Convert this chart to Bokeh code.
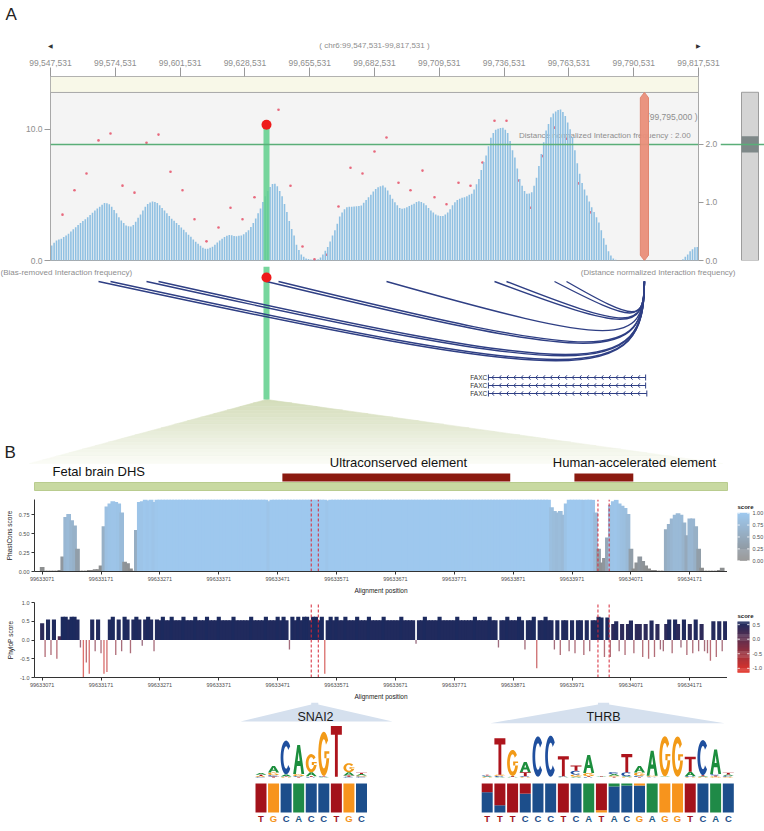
import math
from bokeh.plotting import figure
from bokeh.layouts import column, row
from bokeh.models import (Range1d, LinearAxis, FixedTicker, NumeralTickFormatter,
                          LinearColorMapper, ColumnDataSource)
from bokeh.core.properties import value
from bokeh.embed import file_html
from bokeh.resources import INLINE

# ------------------------------------------------------------------ data
CHROM = "chr6"
G_START = 99547531
G_END = 99817531
G_TICK_STEP = 27000
LEFT_TICKS = [0, 10]
RIGHT_TICKS = [0, 1, 2]
BIN_SIZE = 1000
# Bias-removed interaction frequency, one value per 1 kb bin
BIAS_REMOVED = [
    1.14, 1.35, 1.52, 1.6, 1.65, 1.78, 1.9, 2.03, 2.2, 2.37,
    2.54, 2.7, 2.85, 3.0, 3.15, 3.3, 3.47, 3.64, 3.81, 3.95,
    4.1, 4.24, 4.37, 4.35, 4.28, 4.1, 3.85, 3.6, 3.3, 3.05,
    2.85, 2.67, 2.6, 2.59, 2.7, 2.95, 3.25, 3.5, 3.8, 4.1,
    4.3, 4.42, 4.49, 4.46, 4.38, 4.2, 4.0, 3.81, 3.6, 3.38,
    3.17, 3.02, 2.86, 2.7, 2.52, 2.35, 2.15, 1.97, 1.8, 1.6,
    1.42, 1.27, 1.12, 0.97, 0.89, 0.9, 0.97, 1.05, 1.2, 1.38,
    1.52, 1.66, 1.78, 1.88, 1.95, 1.93, 1.86, 1.85, 1.88, 1.9,
    2.0, 2.15, 2.3, 2.55, 2.85, 3.2, 3.6, 3.95, 4.45, 4.9,
    5.3, 5.6, 5.82, 5.84, 5.65, 5.3, 4.9, 4.3, 3.7, 3.0,
    2.4, 1.9, 1.2, 0.8, 0.45, 0.28, 0.16, 0.12, 0.08, 0.05,
    0.05, 0.1, 0.22, 0.45, 0.75, 1.02, 1.45, 1.9, 2.3, 2.8,
    3.35, 3.65, 3.9, 4.05, 4.1, 4.1, 4.11, 4.13, 4.15, 4.19,
    4.4, 4.6, 4.82, 5.0, 5.25, 5.45, 5.58, 5.65, 5.71, 5.55,
    5.33, 5.0, 4.7, 4.44, 4.2, 4.0, 3.94, 3.97, 4.05, 4.15,
    4.25, 4.32, 4.45, 4.52, 4.45, 4.35, 4.2, 4.0, 3.81, 3.65,
    3.5, 3.43, 3.38, 3.38, 3.5, 3.65, 3.9, 4.2, 4.44, 4.6,
    4.7, 4.78, 4.82, 4.9, 5.0, 5.08, 5.4, 5.8, 6.2, 6.9,
    7.5, 8.0, 8.7, 9.35, 9.7, 9.95, 10.03, 10.08, 10.1, 9.95,
    9.7, 9.1, 8.4, 7.85, 7.0, 6.2, 5.7, 5.3, 5.08, 5.1,
    5.2, 5.7, 6.3, 7.2, 8.1, 9.0, 9.9, 10.4, 10.9, 11.2,
    11.35, 11.45, 11.5, 11.3, 11.0, 10.5, 10.0, 9.4, 8.4, 7.4,
    6.6, 5.9, 5.4, 4.95, 4.5, 4.06, 3.7, 3.3, 2.9, 2.3,
    1.7, 1.2, 0.7, 0.38, 0.15, 0.05, 0.0, 0.0, 0.0, 0.0,
    0.0, 0.0, 0.0, 0.0, 0.0, 0.0, 0.0, 0.0, 0.0, 0.0,
    0.0, 0.0, 0.0, 0.0, 0.0, 0.0, 0.0, 0.0, 0.0, 0.0,
    0.0, 0.0, 0.0, 0.1, 0.28, 0.45, 0.7, 0.85, 1.0, 1.02,
]
DOT_STEP = 5000
# Distance normalized interaction frequency, bins k = 1..45 (5 kb steps)
DIST_NORM = [
    0.79, 1.21, 1.5, 2.07, 2.19, 1.29, 1.17, 2.03, 2.17, 1.53,
    1.21, 0.71, 0.33, 0.57, 0.91, 0.71, 1.09, 2.34, 2.6, 1.29,
    0.24, 0.02, 0.1, 0.93, 1.6, 1.5, 1.88, 2.12, 1.34, 1.21,
    1.55, 1.09, 0.97, 1.34, 1.29, 1.69, 2.41, 2.41, 1.38, 0.91,
    1.8, 2.29, 2.1, 1.33, 0.83,
]
SELECTED = 18
ANCHOR = 99795000
THRESHOLD = 2.0
GENE_NAME = "FAXC"
GENE_STARTS = [99730000, 99730000, 99730000]
GENE_ENDS = [99795500, 99795500, 99796000]

B_START = 99633058
B_END = 99634235
B_TICK0 = 99633071
B_TICK_STEP = 100
B_NTICKS = 12
DHS = (99633058, 99634235)
UCE = (99633479, 99633866)
HAR = (99633975, 99634075)
LABEL_DHS = "Fetal brain DHS"
LABEL_UCE = "Ultraconserved element"
LABEL_HAR = "Human-accelerated element"
SCORE_POS0 = 99633071
SCORE_STEP = 5
PHASTCONS = [
    0.06, 0.01, 0.01, 0.01, 0.01, 0.01, 0.02, 0.2, 0.72, 0.76,
    0.68, 0.61, 0.3, 0.01, 0.01, 0.01, 0.02, 0.02, 0.03, 0.03,
    0.08, 0.6, 0.86, 0.9, 0.93, 0.92, 0.9, 0.78, 0.13, 0.11,
    0.04, 0.01, 0.55, 0.92, 0.93, 0.96, 0.94, 0.96, 0.92, 0.96,
    1.0, 1.0, 1.0, 1.0, 1.0, 1.0, 1.0, 1.0, 1.0, 1.0,
    1.0, 1.0, 1.0, 1.0, 1.0, 1.0, 1.0, 1.0, 1.0, 1.0,
    1.0, 1.0, 1.0, 1.0, 1.0, 1.0, 1.0, 1.0, 1.0, 1.0,
    1.0, 1.0, 1.0, 1.0, 1.0, 1.0, 1.0, 0.93, 1.0, 1.0,
    1.0, 1.0, 1.0, 1.0, 1.0, 1.0, 1.0, 1.0, 1.0, 1.0,
    1.0, 1.0, 1.0, 1.0, 1.0, 1.0, 1.0, 0.94, 1.0, 1.0,
    1.0, 1.0, 1.0, 1.0, 1.0, 1.0, 1.0, 1.0, 1.0, 1.0,
    1.0, 1.0, 1.0, 1.0, 1.0, 1.0, 1.0, 1.0, 1.0, 1.0,
    1.0, 1.0, 1.0, 1.0, 1.0, 1.0, 1.0, 1.0, 1.0, 1.0,
    1.0, 1.0, 1.0, 1.0, 1.0, 1.0, 1.0, 1.0, 1.0, 1.0,
    1.0, 1.0, 1.0, 1.0, 1.0, 1.0, 1.0, 1.0, 1.0, 1.0,
    1.0, 1.0, 1.0, 1.0, 1.0, 1.0, 1.0, 1.0, 1.0, 1.0,
    1.0, 1.0, 1.0, 1.0, 1.0, 1.0, 1.0, 1.0, 1.0, 1.0,
    1.0, 1.0, 1.0, 0.85, 0.8, 0.78, 0.8, 0.75, 0.9, 1.0,
    1.0, 1.0, 1.0, 1.0, 0.95, 1.0, 1.0, 0.95, 0.78, 0.3,
    0.12, 0.18, 0.45, 0.88, 0.93, 0.95, 0.9, 0.87, 0.84, 0.76,
    0.3, 0.04, 0.12, 0.2, 0.14, 0.08, 0.04, 0.02, 0.02, 0.01,
    0.01, 0.01, 0.56, 0.63, 0.7, 0.75, 0.77, 0.75, 0.65, 0.48,
    0.7, 0.7, 0.6, 0.3, 0.05, 0.01, 0.01, 0.01, 0.01, 0.01,
    0.02, 0.05, 0.0,
]
PHYLOP = [
    0.45, -0.45, 0.55, -0.4, 0.55, -0.5, 0.1, 0.62, 0.62, 0.55,
    0.62, 0.62, 0.55, -0.2, -1.0, -0.6, -0.9, 0.55, -0.3, 0.55,
    -0.35, -0.9, -0.85, 0.55, 0.62, -0.4, 0.55, -0.3, 0.62, 0.55,
    -0.35, 0.55, 0.62, 0.55, -0.15, 0.55, 0.62, 0.55, -0.3, 0.55,
    0.53, 0.62, 0.53, 0.53, 0.62, 0.53, 0.53, 0.53, 0.62, 0.53,
    0.53, 0.53, 0.62, 0.53, 0.53, 0.53, 0.62, 0.53, 0.53, 0.53,
    0.62, 0.53, 0.53, 0.53, 0.53, 0.62, 0.53, 0.53, 0.53, 0.53,
    0.53, 0.62, 0.53, 0.53, 0.53, 0.53, 0.62, 0.53, 0.53, 0.53,
    0.62, 0.53, 0.62, 0.53, -0.25, 0.62, 0.53, 0.62, 0.53, 0.62,
    0.62, 0.53, 0.62, 0.62, 0.53, 0.62, -0.9, 0.53, 0.62, 0.53,
    0.62, 0.53, 0.53, 0.62, 0.53, 0.53, 0.53, 0.62, 0.53, 0.53,
    0.53, 0.62, 0.53, 0.53, 0.53, 0.53, 0.62, 0.53, 0.53, 0.53,
    0.53, 0.53, 0.62, 0.53, 0.53, 0.53, 0.53, -0.1, 0.53, 0.53,
    0.62, 0.53, 0.53, 0.53, 0.53, 0.62, 0.53, 0.53, 0.53, 0.53,
    0.53, 0.62, 0.53, 0.53, 0.53, 0.53, 0.53, 0.62, 0.53, 0.53,
    0.53, 0.53, 0.62, 0.53, 0.53, -0.2, 0.53, 0.53, 0.62, 0.53,
    0.53, 0.53, 0.62, 0.53, -0.25, 0.53, 0.53, 0.62, -0.75, 0.53,
    0.53, 0.62, 0.53, 0.53, -0.25, 0.53, -0.4, 0.53, 0.53, -0.3,
    0.53, -0.35, 0.53, 0.53, -0.4, 0.53, -0.3, 0.53, 0.53, 0.62,
    0.6, -0.45, 0.6, -0.45, 0.43, 0.5, -0.3, 0.43, -0.4, 0.43,
    0.52, -0.35, 0.43, 0.43, -0.45, 0.43, -0.5, 0.52, -0.45, 0.43,
    -0.25, -0.3, 0.43, 0.55, -0.35, 0.55, 0.43, -0.2, 0.55, -0.4,
    0.43, -0.35, 0.55, -0.3, 0.43, -0.3, -0.35, -0.55, 0.5, -0.45,
    0.5, -0.3, 0.5,
]
PC_TICKS = [0.0, 0.25, 0.5, 0.75]
PC_CB_TICKS = [0.0, 0.25, 0.5, 0.75, 1.0]
PP_TICKS = [-1.0, -0.5, 0.0, 0.5, 1.0]
PP_CB_TICKS = [-1.0, -0.5, 0.0, 0.5]

MOTIF_NAMES = ["SNAI2", "THRB"]
MOTIF_SITES = [(99633528, 99633540), (99634015, 99634034)]
# sequence logo heights (bits)
SNAI2_A = [0.06, 0.25, 0.08, 1.12, 0.15, 0.02, 0.01, 0.12, 0.05]
SNAI2_C = [0.03, 0.05, 1.3, 0.03, 0.02, 0.02, 0.01, 0.03, 0.04]
SNAI2_G = [0.03, 0.1, 0.02, 0.08, 0.7, 1.7, 0.01, 0.35, 0.04]
SNAI2_T = [0.05, 0.04, 0.02, 0.02, 0.03, 0.02, 1.95, 0.05, 0.05]
THRB_A = [0.03, 0.02, 0.02, 0.4, 0.01, 0.01, 0.02, 0.03, 0.7, 0.02,
          0.06, 0.03, 0.25, 0.96, 0.02, 0.01, 0.17, 0.03, 0.95, 0.05]
THRB_C = [0.03, 0.04, 0.01, 0.03, 1.55, 1.58, 0.02, 0.15, 0.02, 0.01,
          0.08, 0.15, 0.05, 0.02, 0.01, 0.01, 0.03, 1.35, 0.05, 0.04]
THRB_G = [0.02, 0.05, 1.0, 0.02, 0.01, 0.01, 0.01, 0.08, 0.12, 0.01,
          0.04, 0.02, 0.12, 0.04, 1.55, 1.55, 0.02, 0.02, 0.04, 0.03]
THRB_T = [0.03, 1.4, 0.03, 0.15, 0.01, 0.01, 0.77, 0.2, 0.03, 0.02,
          0.03, 0.7, 0.02, 0.01, 0.01, 0.01, 0.58, 0.04, 0.04, 0.06]
# base composition bars (fractions)
SNAI2_FA = [0, 0, 0, 1, 0, 0, 0, 0, 0]
SNAI2_FC = [0, 0, 1, 0, 1, 1, 0, 0, 1]
SNAI2_FG = [0, 1, 0, 0, 0, 0, 0, 1, 0]
SNAI2_FT = [1, 0, 0, 0, 0, 0, 1, 0, 0]
THRB_FA = [0, 0, 0, 0, 0, 0, 0, 0, 1, 0, 0.1, 0.07, 0, 1, 0, 0, 0, 0, 1, 0]
THRB_FC = [0.7, 0.25, 0, 0.65, 1, 1, 0, 1, 0, 0, 0.9, 0.93, 0.93, 0, 0, 0, 0, 1, 0, 1]
THRB_FG = [0, 0, 0, 0, 0, 0, 0, 0, 0, 0.08, 0, 0, 0.07, 0, 1, 1, 0, 0, 0, 0]
THRB_FT = [0.3, 0.75, 1, 0.35, 0, 0, 1, 0, 0, 0.92, 0, 0, 0, 0, 0, 0, 1, 0, 0, 0]
SNAI2_SEQ = "TGCACCTGC"
THRB_SEQ = "TTTCCCTCATACGAGGTCAC"

# ------------------------------------------------------------------ layout / style
PAGE_W = 764
H0, H1, H2, H3, H4, H5 = 50, 216, 227, 103, 106, 129
L1, W1, R1 = 50, 648, 22
LB, WB = 34, 693
CB_W = PAGE_W - LB - WB

FONT = "Liberation Sans"
GRAY_TXT = "#8e8e8e"
NAVY = "#2f3f84"

G_SPAN = G_END - G_START
g_lo = G_START - L1 * G_SPAN / W1
g_hi = G_START + (PAGE_W - L1) * G_SPAN / W1
B_SPAN = B_END - B_START
b_lo = B_START - LB * B_SPAN / WB
b_hi = B_START + (PAGE_W - LB) * B_SPAN / WB


def g_to_u(g):
    return (g - g_lo) / (g_hi - g_lo) * PAGE_W


def b_to_u(b):
    return (b - b_lo) / (b_hi - b_lo) * PAGE_W


def hex_mix(c0, c1, t):
    a = [int(c0[i:i + 2], 16) for i in (1, 3, 5)]
    b = [int(c1[i:i + 2], 16) for i in (1, 3, 5)]
    return "#%02x%02x%02x" % tuple(round(a[i] + (b[i] - a[i]) * t) for i in range(3))


def bare(width, height, xr, yr, top=0, bottom=0):
    p = figure(width=width, height=height, x_range=xr, y_range=yr,
               x_axis_type=None, y_axis_type=None, output_backend="svg",
               toolbar_location=None, min_border_left=0, min_border_right=0,
               min_border_top=top, min_border_bottom=bottom)
    p.outline_line_color = None
    p.background_fill_color = "white"
    p.border_fill_color = "white"
    return p


def canvas(h):
    return bare(PAGE_W, h, Range1d(0, PAGE_W), Range1d(h, 0))


# ------------------------------------------------------------------ F0 header
f0 = canvas(H0)
f0.extra_x_ranges = {"g": Range1d(g_lo, g_hi)}
f0.text(x=[5], y=[14], text=["A"], text_font=value(FONT), text_font_size="17px",
        text_baseline="middle", text_color="#222222")
f0.text(x=[G_START, G_END], y=[45, 45], text=["\u25C0", "\u25B6"], x_range_name="g",
        text_align="center", text_baseline="middle", text_font_size="6px", text_color="#333333")
f0.text(x=[(G_START + G_END) / 2], y=[45], text=[f"( {CHROM}:{G_START:,}-{G_END:,} )"],
        x_range_name="g", text_align="center", text_baseline="middle",
        text_font=value(FONT), text_font_size="8px", text_color=GRAY_TXT)

# ------------------------------------------------------------------ F1 interaction profile
RIGHT_TOP = 3.172
LEFT_TOP = 14.01
BAND_BOTTOM = 12.795
f1 = figure(width=L1 + W1 + R1, height=H1, x_range=Range1d(G_START, G_END),
            y_range=Range1d(0, LEFT_TOP), x_axis_location="above",
            output_backend="svg", toolbar_location=None,
            min_border_left=L1, min_border_right=R1, min_border_top=26, min_border_bottom=6)
f1.extra_y_ranges = {"right": Range1d(0, RIGHT_TOP)}
f1.add_layout(LinearAxis(y_range_name="right"), "right")
f1.grid.visible = False
f1.background_fill_color = "#f4f4f4"
f1.border_fill_color = "white"
f1.outline_line_color = "#a8a8a8"
for ax in f1.axis:
    ax.axis_line_color = None
    ax.major_tick_line_color = "#9a9a9a"
    ax.minor_tick_line_color = None
    ax.major_label_text_color = GRAY_TXT
    ax.major_label_text_font = FONT
    ax.major_label_text_font_size = "8.5px"
    ax.major_tick_in = 0
    ax.major_label_standoff = 2
f1.xaxis.ticker = FixedTicker(ticks=list(range(G_START, G_END + 1, G_TICK_STEP)))
f1.xaxis.formatter = NumeralTickFormatter(format="0,0")
f1.xaxis.major_tick_out = 9
f1.left[0].ticker = FixedTicker(ticks=LEFT_TICKS)
f1.left[0].formatter = NumeralTickFormatter(format="0.0")
f1.left[0].major_tick_out = 6
f1.right[0].ticker = FixedTicker(ticks=RIGHT_TICKS)
f1.right[0].formatter = NumeralTickFormatter(format="0.0")
f1.right[0].major_tick_out = 5

f1.quad(left=[G_START], right=[G_END], bottom=[BAND_BOTTOM], top=[LEFT_TOP],
        fill_color="#f8f8e8", line_color="#a8a8a8")
f1.text(x=[G_END - 420], y=[10.9], text=[f"({ANCHOR:,} )"], text_align="right",
        text_baseline="middle", text_font=value(FONT), text_font_size="8.5px", text_color=GRAY_TXT)
f1.text(x=[G_END - 3300], y=[9.52],
        text=[f"Distance normalized Interaction frequency : {THRESHOLD:.2f}"],
        text_align="right", text_baseline="middle", text_font=value(FONT),
        text_font_size="8px", text_color=GRAY_TXT)

dot_x = [G_START + DOT_STEP * (k + 1) for k in range(len(DIST_NORM))]
f1.scatter(x=dot_x, y=DIST_NORM, y_range_name="right", size=2.6, color="#e8697d", line_color=None)
bar_x = [G_START + BIN_SIZE * (i + 0.5) for i in range(len(BIAS_REMOVED))]
f1.vbar(x=bar_x, top=BIAS_REMOVED, bottom=0, width=BIN_SIZE * 0.66,
        fill_color="#8fc0e2", line_color=None)
sel_x = dot_x[SELECTED - 1]
sel_v = DIST_NORM[SELECTED - 1]
f1.vbar(x=[sel_x], bottom=[0], top=[sel_v], width=2500, y_range_name="right",
        fill_color="#5fcf8c", fill_alpha=0.85, line_color=None)
f1.segment(x0=[G_START], y0=[THRESHOLD], x1=[G_END], y1=[THRESHOLD], y_range_name="right",
           line_color="#5aae78", line_width=1.5)
hw, tip = 1700, 0.4
f1.patch(x=[ANCHOR - hw, ANCHOR, ANCHOR + hw, ANCHOR + hw, ANCHOR, ANCHOR - hw],
         y=[tip, 0, tip, BAND_BOTTOM - tip, BAND_BOTTOM, BAND_BOTTOM - tip],
         fill_color="#e98e79", fill_alpha=0.95, line_color="#e08670")
f1.scatter(x=[sel_x], y=[sel_v], y_range_name="right", size=10, color="#ee1b1b", line_color=None)

# scroll-bar strip to the right
fsb = bare(PAGE_W - (L1 + W1 + R1), H1, Range1d(L1 + W1 + R1, PAGE_W), Range1d(0, RIGHT_TOP),
           top=26, bottom=6)
fsb.quad(left=[741], right=[758], bottom=[0], top=[2.9], fill_color="#d4d4d4", line_color="#9c9c9c")
fsb.quad(left=[741], right=[758], bottom=[THRESHOLD - 0.14], top=[THRESHOLD + 0.14],
         fill_color="#7e8888", line_color=None)
fsb.segment(x0=[L1 + W1 + R1], y0=[THRESHOLD], x1=[PAGE_W], y1=[THRESHOLD],
            line_color="#5aae78", line_width=1.5)

# ------------------------------------------------------------------ F2 arcs, genes, panel B header
f2 = canvas(H2)
f2.extra_x_ranges = {"g": Range1d(g_lo, g_hi), "b": Range1d(b_lo, b_hi)}
apex_u = g_to_u(sel_x)
y_a, y_b, bl, br = 133, 197, 29, 722
N = 18
fx, fy, fc = [], [], []
for i in range(N):
    t0, t1 = i / N, (i + 1) / N
    ya, yb = y_a + (y_b - y_a) * t0, y_a + (y_b - y_a) * t1
    xl0, xl1 = apex_u + (bl - apex_u) * t0, apex_u + (bl - apex_u) * t1
    xr0, xr1 = apex_u + (br - apex_u) * t0, apex_u + (br - apex_u) * t1
    fx.append([xl0, xr0, xr1, xl1])
    fy.append([ya, ya, yb, yb])
    fc.append(hex_mix("#d3dcb9", "#fbfcf7", (t0 + t1) / 2))
f2.patches(xs=fx, ys=fy, fill_color=fc, line_color=fc, line_width=0.6)
f2.vbar(x=[sel_x], bottom=[0], top=[133], width=2500, x_range_name="g",
        fill_color="#5fcf8c", fill_alpha=0.85, line_color=None)

ARC_Y = 15
px_per_bp = W1 / G_SPAN
a_x0, a_y0, a_x1, a_y1, c0x, c0y, c1x, c1y = [], [], [], [], [], [], [], []
for x0, v in zip(dot_x, DIST_NORM):
    if v >= THRESHOLD:
        dist = ANCHOR - x0
        depth = 22 + 0.105 * dist * px_per_bp
        a_x0.append(x0); a_y0.append(ARC_Y); a_x1.append(ANCHOR); a_y1.append(ARC_Y)
        c0x.append(x0 + 0.9 * dist); c0y.append(ARC_Y + depth / 0.75)
        c1x.append(ANCHOR); c1y.append(ARC_Y + depth / 0.75)
f2.bezier(x0=a_x0, y0=a_y0, x1=a_x1, y1=a_y1, cx0=c0x, cy0=c0y, cx1=c1x, cy1=c1y,
          x_range_name="g", line_color=NAVY, line_width=1.4)
f2.scatter(x=[sel_x], y=[11], x_range_name="g", size=10, color="#ee1b1b", line_color=None)

f2.text(x=[0], y=[6], text=["(Bias-removed Interaction frequency)"], text_align="left",
        text_baseline="middle", text_font=value(FONT), text_font_size="8px", text_color=GRAY_TXT)
f2.text(x=[735], y=[6], text=["(Distance normalized Interaction frequency)"], text_align="right",
        text_baseline="middle", text_font=value(FONT), text_font_size="8px", text_color=GRAY_TXT)

sx0, sy0, sx1, sy1 = [], [], [], []
gl_x, gl_y = [], []
for r, (gs, ge) in enumerate(zip(GENE_STARTS, GENE_ENDS)):
    y = 111 + 8 * r
    sx0 += [gs, gs, ge]; sy0 += [y, y - 3, y - 3]; sx1 += [ge, gs, ge]; sy1 += [y, y + 3, y + 3]
    c = gs + 1500
    while c < ge - 1500:
        sx0 += [c, c]; sy0 += [y, y]; sx1 += [c + 800, c + 800]; sy1 += [y - 2.2, y + 2.2]
        c += 3040
    gl_x.append(gs - 500); gl_y.append(y)
f2.segment(x0=sx0, y0=sy0, x1=sx1, y1=sy1, x_range_name="g", line_color=NAVY, line_width=1)
f2.text(x=gl_x, y=gl_y, text=[GENE_NAME] * len(gl_x), x_range_name="g", text_align="right",
        text_baseline="middle", text_font=value(FONT), text_font_size="6.5px", text_color="#333333")

f2.text(x=[4], y=[186], text=["B"], text_font=value(FONT), text_font_size="17px",
        text_baseline="middle", text_color="#222222")
f2.text(x=[52], y=[205], text=[LABEL_DHS], text_font=value(FONT), text_font_size="13px",
        text_baseline="middle", text_color="#111111")
f2.text(x=[398, 634], y=[196, 196], text=[LABEL_UCE, LABEL_HAR], text_font=value(FONT),
        text_font_size="13px", text_align="center", text_baseline="middle", text_color="#111111")
f2.quad(left=[UCE[0], HAR[0]], right=[UCE[1], HAR[1]], top=[207, 207], bottom=[215, 215],
        x_range_name="b", fill_color="#8b1a10", line_color=None)
f2.quad(left=[DHS[0]], right=[DHS[1]], top=[216], bottom=[224], x_range_name="b",
        fill_color="#c8d9a1", line_color="#b9cc8f")


# ------------------------------------------------------------------ ggplot-like panels
def style_gg(p, ylabel):
    p.grid.visible = False
    p.outline_line_color = None
    p.background_fill_color = "white"
    p.border_fill_color = "white"
    for ax in p.axis:
        ax.axis_line_color = "#333333"
        ax.major_tick_line_color = "#333333"
        ax.minor_tick_line_color = None
        ax.major_tick_out = 3
        ax.major_tick_in = 0
        ax.major_label_text_font = FONT
        ax.major_label_text_font_size = "5.5px"
        ax.major_label_text_color = "#4d4d4d"
        ax.major_label_standoff = 2
        ax.axis_label_text_font = FONT
        ax.axis_label_text_font_size = "6.5px"
        ax.axis_label_text_font_style = "normal"
        ax.axis_label_text_color = "#222222"
        ax.axis_label_standoff = 3
    p.xaxis.ticker = FixedTicker(ticks=[B_TICK0 + B_TICK_STEP * i for i in range(B_NTICKS)])
    p.xaxis.formatter = NumeralTickFormatter(format="0")
    p.xaxis.axis_label = "Alignment position"
    p.yaxis.axis_label = ylabel


def palette(c0, c1, n=48):
    return [hex_mix(c0, c1, i / (n - 1)) for i in range(n)]


def legend_fig(h, top, bottom, frame_top, frame_bot, pal, low, high, ticks, fmt,
               bar_top, bar_bot, title_y):
    """colour-bar legend drawn from the colour mapper's range"""
    p = bare(CB_W, h, Range1d(PAGE_W - CB_W, PAGE_W), Range1d(frame_bot, frame_top), top, bottom)
    n = len(pal)
    step = (bar_bot - bar_top) / n
    p.quad(left=[737] * n, right=[749] * n,
           bottom=[bar_bot - i * step for i in range(n)],
           top=[bar_bot - (i + 1) * step - 0.3 for i in range(n)],
           fill_color=pal, line_color=None)
    ty = [bar_bot - (t - low) / (high - low) * (bar_bot - bar_top) for t in ticks]
    p.segment(x0=[737] * len(ty) + [746.6] * len(ty), y0=ty + ty,
              x1=[739.4] * len(ty) + [749] * len(ty), y1=ty + ty, line_color="white", line_width=0.8)
    p.text(x=[752] * len(ty), y=ty, text=[format(t, fmt) for t in ticks], text_font=value(FONT),
           text_font_size="5.5px", text_baseline="middle", text_color="#4d4d4d")
    p.text(x=[737], y=[title_y], text=["score"], text_font=value(FONT), text_font_size="6px",
           text_font_style="bold", text_baseline="middle", text_color="#222222")
    return p


pos = [SCORE_POS0 + SCORE_STEP * j for j in range(len(PHASTCONS))]
site_x = [s for site in MOTIF_SITES for s in site]

# F3 phastCons
f3 = figure(width=LB + WB, height=H3, x_range=Range1d(B_START, B_END), y_range=Range1d(0, 0.953),
            output_backend="svg", toolbar_location=None,
            min_border_left=LB, min_border_right=0, min_border_top=6, min_border_bottom=23)
style_gg(f3, "PhastCons score")
f3.yaxis.ticker = FixedTicker(ticks=PC_TICKS)
f3.yaxis.formatter = NumeralTickFormatter(format="0.00")
pc_pal = palette("#8c8c8c", "#9ec8ee")
pc_map = LinearColorMapper(palette=pc_pal, low=0, high=1)
src3 = ColumnDataSource(dict(x=pos, v=PHASTCONS))
f3.vbar(x="x", top="v", bottom=0, width=SCORE_STEP * 1.6, source=src3,
        fill_color={"field": "v", "transform": pc_map}, line_color=None)
f3.segment(x0=site_x, y0=[0] * 4, x1=site_x, y1=[0.953] * 4, line_color="#d62838",
           line_width=1, line_dash="3 2")
f3cb = legend_fig(H3, 6, 23, 499, 573, pc_pal, 0.0, 1.0, PC_CB_TICKS, ".2f", 513, 562, 507)

# F4 phyloP
PP_LOW, PP_HIGH = -1.15, 0.6
f4 = figure(width=LB + WB, height=H4, x_range=Range1d(B_START, B_END), y_range=Range1d(-1.0, 1.0),
            output_backend="svg", toolbar_location=None,
            min_border_left=LB, min_border_right=0, min_border_top=6, min_border_bottom=22)
style_gg(f4, "PhyloP score")
f4.yaxis.ticker = FixedTicker(ticks=PP_TICKS)
f4.yaxis.formatter = NumeralTickFormatter(format="0.0")
pp_pal = palette("#e3342a", "#1c2a5e")
pp_map = LinearColorMapper(palette=pp_pal, low=PP_LOW, high=PP_HIGH)
pos_p = [x for x, v in zip(pos, PHYLOP) if v >= 0]
val_p = [v for v in PHYLOP if v >= 0]
pos_n = [x for x, v in zip(pos, PHYLOP) if v < 0]
val_n = [v for v in PHYLOP if v < 0]
f4.vbar(x="x", top="v", bottom=0, width=SCORE_STEP * 1.4,
        source=ColumnDataSource(dict(x=pos_p, v=val_p)),
        fill_color={"field": "v", "transform": pp_map}, line_color=None)
f4.vbar(x="x", top="v", bottom=0, width=SCORE_STEP * 0.45,
        source=ColumnDataSource(dict(x=pos_n, v=val_n)),
        fill_color={"field": "v", "transform": pp_map}, fill_alpha=0.7, line_color=None)
f4.segment(x0=site_x, y0=[-1.0] * 4, x1=site_x, y1=[1.0] * 4, line_color="#d62838",
           line_width=1, line_dash="3 2")
f4cb = legend_fig(H4, 6, 22, 602, 680, pp_pal, PP_LOW, PP_HIGH, PP_CB_TICKS, ".1f", 622, 675, 616)

# ------------------------------------------------------------------ F5 motifs
f5 = canvas(H5)
f5.extra_x_ranges = {"b": Range1d(b_lo, b_hi)}
FUNNEL_BASES = [(240, 392, 19), (490, 724, 20.7)]
px_, py_ = [], []
for (s, e), (xl, xr, yb) in zip(MOTIF_SITES, FUNNEL_BASES):
    ul, ur = b_to_u(s), b_to_u(e)
    px_.append([ul, ur, ur, xr, xl, ul])
    py_.append([0, 0, 2, yb, yb, 2])
f5.patches(xs=px_, ys=py_, fill_color="#d5e0ee", line_color=None)
f5.text(x=[315, 603], y=[14, 14], text=MOTIF_NAMES, text_font=value(FONT), text_font_size="12.5px",
        text_align="center", text_baseline="middle", text_color="#1a1a1a")


def ring(t0, t1, rxo, ryo, rxi, ryi, n=30):
    out = []
    for i in range(n + 1):
        t = math.radians(t0 + (t1 - t0) * i / n)
        out.append((0.5 + rxo * math.cos(t), 0.5 + ryo * math.sin(t)))
    for i in range(n, -1, -1):
        t = math.radians(t0 + (t1 - t0) * i / n)
        out.append((0.5 + rxi * math.cos(t), 0.5 + ryi * math.sin(t)))
    return out


SHAPES = {
    "T": [[[(0, 1), (1, 1), (1, 0.83), (0.63, 0.83), (0.63, 0), (0.37, 0), (0.37, 0.83), (0, 0.83)]]],
    "A": [[[(0, 0), (0.37, 1), (0.63, 1), (1, 0), (0.75, 0), (0.66, 0.28), (0.34, 0.28), (0.25, 0)],
           [(0.41, 0.45), (0.5, 0.76), (0.59, 0.45)]]],
    "C": [[ring(42, 318, 0.5, 0.5, 0.25, 0.33)]],
    "G": [[ring(38, 360, 0.5, 0.5, 0.25, 0.33)],
          [[(0.55, 0.4), (1.0, 0.4), (1.0, 0.56), (0.55, 0.56)]]],
}
LOGO_COL = {"A": "#1c8e3d", "C": "#1f4f9e", "G": "#f29a17", "T": "#ad141c"}
BAR_COL = {"A": "#1f8a47", "C": "#1c4e8b", "G": "#f7941d", "T": "#a3121b"}
SEQ_COL = {"A": "#1f5a86", "C": "#1c4e8b", "G": "#f5951c", "T": "#a3121b"}

BASELINE, BITS_PX, LW = 75, 26, 11
BAR_TOP, BAR_BOT = 81, 110
MOTIF_LAYOUT = [(260.5, 12.56), (486.7, 12.69)]
motifs = [
    (dict(A=SNAI2_A, C=SNAI2_C, G=SNAI2_G, T=SNAI2_T),
     dict(A=SNAI2_FA, C=SNAI2_FC, G=SNAI2_FG, T=SNAI2_FT), SNAI2_SEQ),
    (dict(A=THRB_A, C=THRB_C, G=THRB_G, T=THRB_T),
     dict(A=THRB_FA, C=THRB_FC, G=THRB_FG, T=THRB_FT), THRB_SEQ),
]
mx, my, mc = [], [], []
qx0, qx1, qt, qb, qc = [], [], [], [], []
tx, tt, tc = [], [], []
for (heights, fracs, seq), (x_first, pitch) in zip(motifs, MOTIF_LAYOUT):
    for i in range(len(seq)):
        cx = x_first + pitch * i
        x0, x1 = cx - LW / 2, cx + LW / 2
        y = BASELINE
        for base in sorted("ACGT", key=lambda b: heights[b][i]):
            h = heights[base][i] * BITS_PX
            if h >= 0.4:
                yb, yt = y, y - h
                mx.append([[[x0 + u * (x1 - x0) for u, v in rg] for rg in poly] for poly in SHAPES[base]])
                my.append([[[yb + v * (yt - yb) for u, v in rg] for rg in poly] for poly in SHAPES[base]])
                mc.append(LOGO_COL[base])
            y -= h
        y = BAR_BOT
        for base in "CGAT":
            h = fracs[base][i] * (BAR_BOT - BAR_TOP)
            if h > 0:
                qx0.append(x0); qx1.append(x1); qb.append(y); qt.append(y - h); qc.append(BAR_COL[base])
            y -= h
        tx.append(cx); tt.append(seq[i]); tc.append(SEQ_COL[seq[i]])
f5.multi_polygons(xs=mx, ys=my, fill_color=mc, line_color=None)
f5.quad(left=qx0, right=qx1, top=qt, bottom=qb, fill_color=qc, line_color=None)
f5.text(x=tx, y=[115.5] * len(tx), text=tt, text_color=tc, text_font=value(FONT),
        text_font_size="9.5px", text_font_style="bold", text_align="center", text_baseline="middle")

layout = column(row(f0), row(f1, fsb), row(f2), row(f3, f3cb), row(f4, f4cb), row(f5))
open("out.html", "w").write(file_html(layout, INLINE))
